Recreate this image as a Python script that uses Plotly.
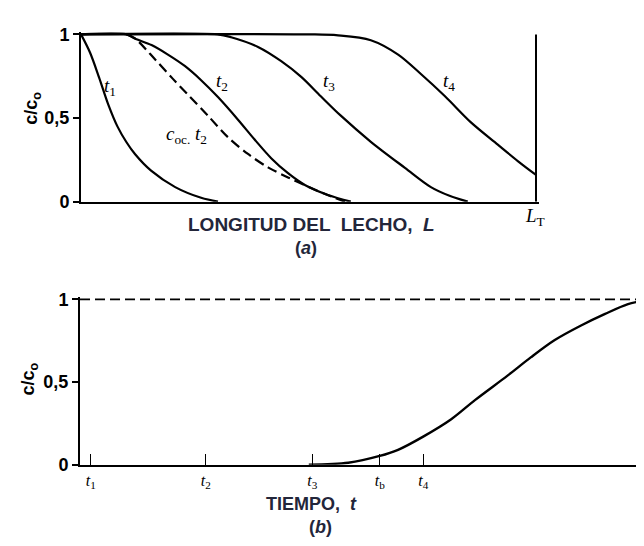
import plotly.graph_objects as go

# ---------------- data: (a) concentration profile along the bed ----------------
t1_L = [0, 0.02, 0.04, 0.06, 0.08, 0.10, 0.119, 0.154, 0.207, 0.264, 0.301]
t1_c = [1, 0.89, 0.74, 0.58, 0.45, 0.355, 0.283, 0.185, 0.087, 0.023, 0]

t2_L = [0, 0.10, 0.118, 0.155, 0.191, 0.228, 0.264, 0.301, 0.345, 0.382, 0.418, 0.455, 0.492, 0.543, 0.593]
t2_c = [1, 1, 0.975, 0.936, 0.879, 0.811, 0.726, 0.625, 0.49, 0.37, 0.26, 0.17, 0.10, 0.04, 0]

coc_L = [0.10, 0.118, 0.163, 0.202, 0.235, 0.279, 0.323, 0.367, 0.411, 0.455, 0.499, 0.549, 0.58]
coc_c = [1, 0.977, 0.85, 0.734, 0.64, 0.514, 0.385, 0.285, 0.205, 0.145, 0.09, 0.032, 0]

t3_L = [0, 0.30, 0.33, 0.389, 0.44, 0.484, 0.527, 0.571, 0.637, 0.712, 0.769, 0.81, 0.85]
t3_c = [1, 1, 0.983, 0.925, 0.84, 0.746, 0.63, 0.514, 0.358, 0.202, 0.087, 0.035, 0]

t4_L = [0, 0.50, 0.565, 0.637, 0.697, 0.747, 0.80, 0.857, 0.916, 0.96, 1.0]
t4_c = [1, 1, 0.994, 0.965, 0.879, 0.763, 0.63, 0.474, 0.341, 0.243, 0.16]

y_ticks = [0, 0.5, 1]
y_tick_text = ["0", "0,5", "1"]

# ---------------- data: (b) breakthrough curve ----------------
time_vals = [40.0, 46.9, 52.4, 55.6, 60.0, 64.9, 69.1, 74.8, 78.8, 83.0, 87.6, 91.8, 95.8, 98.8, 100]
conc_vals = [0, 0.012, 0.053, 0.09, 0.170, 0.275, 0.392, 0.54, 0.649, 0.754, 0.842, 0.912, 0.971, 0.994, 1.0]
ref_t = [0, 100]
ref_c = [1, 1]
time_ticks = [1.9, 22.0, 40.6, 52.4, 60.0]
time_tick_text = ["<i>t</i><sub>1</sub>", "<i>t</i><sub>2</sub>", "<i>t</i><sub>3</sub>",
                  "<i>t</i><sub>b</sub>", "<i>t</i><sub>4</sub>"]

W, H = 644, 546
def px(x):
    return x / W
def py(y):
    return 1 - y / H

fig = go.Figure()
solid = dict(color="black", width=2.2, shape="spline", smoothing=0.9)
for L, c in [(t1_L, t1_c), (t2_L, t2_c), (t3_L, t3_c), (t4_L, t4_c)]:
    fig.add_trace(go.Scatter(x=L, y=c, mode="lines", line=solid, xaxis="x", yaxis="y", showlegend=False))
fig.add_trace(go.Scatter(x=coc_L, y=coc_c, mode="lines",
                         line=dict(color="black", width=2.2, dash="10px,5px", shape="spline", smoothing=0.9),
                         xaxis="x", yaxis="y", showlegend=False))

fig.add_trace(go.Scatter(x=ref_t, y=ref_c, mode="lines",
                         line=dict(color="black", width=1.6, dash="10px,5px"),
                         xaxis="x2", yaxis="y2", showlegend=False))
fig.add_trace(go.Scatter(x=time_vals, y=conc_vals, mode="lines",
                         line=dict(color="black", width=2.4, shape="spline", smoothing=0.9),
                         xaxis="x2", yaxis="y2", showlegend=False))

tickfont = dict(family="Liberation Sans", size=18, color="black", weight="bold")
top_x0, top_x1 = 73, 528
top_y1, top_y0 = 19, 192
xr_top = [0, 1.006]
yr = [0, 1.012]
extra_x = (xr_top[1] - 1) * (top_x1 - top_x0)
extra_y_top = (yr[1] - 1) * (top_y0 - top_y1)

bot_x0, bot_x1 = 72, 644
bot_y1, bot_y0 = 293, 464
extra_y_bot = (yr[1] - 1) * (bot_y0 - bot_y1)

fig.update_layout(
    width=W, height=H, margin=dict(l=0, r=0, t=0, b=0),
    plot_bgcolor="white", paper_bgcolor="white",
    xaxis=dict(domain=[px(top_x0), px(top_x1 + extra_x)], range=xr_top, showline=True, linecolor="black",
               linewidth=2, showgrid=False, zeroline=False, showticklabels=False, ticks=""),
    yaxis=dict(domain=[py(top_y0), py(top_y1 - extra_y_top)], range=yr, showline=True, linecolor="black",
               linewidth=2, showgrid=False, zeroline=False, tickvals=y_ticks, ticktext=y_tick_text,
               ticks="outside", ticklen=6, tickwidth=1.5, tickcolor="black", tickfont=tickfont),
    xaxis2=dict(domain=[px(bot_x0), px(bot_x1)], range=[0, 100], showline=True, linecolor="black",
                linewidth=2, showgrid=False, zeroline=False, tickvals=time_ticks, ticktext=time_tick_text,
                ticks="inside", ticklen=11, tickwidth=1.2, tickcolor="black",
                tickfont=dict(family="Liberation Serif", size=16, color="black"), anchor="y2"),
    yaxis2=dict(domain=[py(bot_y0), py(bot_y1 - extra_y_bot)], range=yr, showline=True, linecolor="black",
                linewidth=2, showgrid=False, zeroline=False, tickvals=y_ticks, ticktext=y_tick_text,
                ticks="outside", ticklen=6, tickwidth=1.5, tickcolor="black", tickfont=tickfont, anchor="x2"),
)

# right boundary of the bed (L = L_T)
fig.add_shape(type="line", xref="x", yref="y", x0=1, x1=1, y0=0, y1=1,
              line=dict(color="black", width=2))

label_font = dict(family="Liberation Serif", size=19, color="black")
navy = "#23263a"
annots = [
    dict(x=px(25), y=py(95), text="c/c<sub>o</sub>", textangle=-90,
         font=dict(family="Liberation Sans", size=18, color="black", weight="bold")),
    dict(x=px(22), y=py(376), text="c/c<sub>o</sub>", textangle=-90,
         font=dict(family="Liberation Sans", size=18, color="black", weight="bold")),
    dict(x=px(303), y=py(216), text="LONGITUD DEL  LECHO,  <i>L</i>",
         font=dict(family="Liberation Sans", size=19, color=navy, weight="bold")),
    dict(x=px(298), y=py(240), text="(<i>a</i>)",
         font=dict(family="Liberation Sans", size=18, color=navy, weight="bold")),
    dict(x=px(527), y=py(208), text="<i>L</i><sub>T</sub>", font=label_font),
    dict(x=px(102), y=py(73), text="<i>t</i><sub>1</sub>", font=label_font),
    dict(x=px(214), y=py(68), text="<i>t</i><sub>2</sub>", font=label_font),
    dict(x=px(178), y=py(123), text="<i>c</i><sub>oc.</sub> <i>t</i><sub>2</sub>", font=label_font),
    dict(x=px(321), y=py(68), text="<i>t</i><sub>3</sub>", font=label_font),
    dict(x=px(441), y=py(68), text="<i>t</i><sub>4</sub>", font=label_font),
    dict(x=px(303), y=py(505), text="TIEMPO,  <i>t</i>",
         font=dict(family="Liberation Sans", size=18, color=navy, weight="bold")),
    dict(x=px(312), y=py(528), text="(<i>b</i>)",
         font=dict(family="Liberation Sans", size=18, color=navy, weight="bold")),
]
for a in annots:
    fig.add_annotation(xref="paper", yref="paper", showarrow=False, xanchor="center", yanchor="middle", **a)

fig.write_html("out.html")
